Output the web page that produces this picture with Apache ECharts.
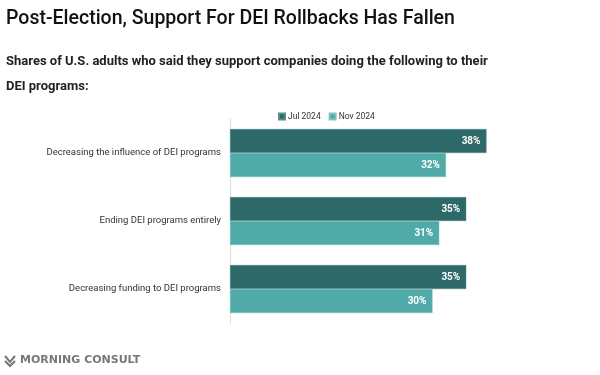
<!DOCTYPE html>
<html>
<head>
<meta charset="utf-8">
<script src="https://cdn.jsdelivr.net/npm/echarts@6/dist/echarts.min.js"></script>
<style>
	html, body { margin: 0; padding: 0; background: #fff; }
	#chart { width: 600px; height: 375px; }
</style>
</head>
<body>
<div id="chart"></div>
<script>
const categories = [
	"Decreasing the influence of DEI programs",
	"Ending DEI programs entirely",
	"Decreasing funding to DEI programs"
];
const seriesNames = ["Jul 2024", "Nov 2024"];
const jul2024 = [38, 35, 35];
const nov2024 = [32, 31, 30];

const myChart = echarts.init(document.getElementById("chart"));
const fontFamily = "Roboto, 'Open Sans', sans-serif";

let barLabel = {
	show: true,
	position: "insideRight",
	distance: 6,
	formatter: "{c}%",
	color: "#fff",
	fontSize: 10,
	fontWeight: "bold",
	fontFamily: fontFamily
};

let option = {
	animation: false,
	textStyle: { fontFamily: fontFamily },
	title: [
		{
			text: "Post-Election, Support For DEI Rollbacks Has Fallen",
			left: 6,
			top: 9,
			padding: 0,
			textStyle: { fontSize: 19.5, fontWeight: 500, color: "#111", fontFamily: fontFamily }
		},
		{
			text: "Shares of U.S. adults who said they support companies doing the following to their\nDEI programs:",
			left: 6,
			top: 49,
			padding: 0,
			textStyle: { fontSize: 13, fontWeight: "bold", color: "#222", lineHeight: 25, fontFamily: fontFamily }
		}
	],
	legend: {
		data: seriesNames,
		top: 112,
		left: 278,
		padding: 0,
		itemWidth: 6,
		itemHeight: 6,
		itemGap: 8,
		icon: "rect",
		textStyle: { fontSize: 8.5, color: "#333", padding: [0, 0, 0, -2] }
	},
	grid: {
		left: 230,
		top: 119,
		width: 337.5,
		height: 204
	},
	xAxis: {
		type: "value",
		min: 0,
		max: 50,
		show: false
	},
	yAxis: {
		type: "category",
		inverse: true,
		data: categories,
		axisTick: { show: false },
		axisLine: { show: true, lineStyle: { color: "#ddd", width: 1 } },
		axisLabel: { fontSize: 9.5, color: "#333", margin: 9 },
		splitLine: { show: false }
	},
	graphic: [
		{
			type: "text",
			left: 20,
			top: 355,
			style: {
				text: "MORNING CONSULT",
				fontSize: 11,
				fontWeight: "bold",
				fill: "#777",
				fontFamily: "'DejaVu Sans', sans-serif"
			}
		},
		{
			type: "polyline",
			shape: { points: [[5, 356], [10, 362], [15, 356]] },
			style: { stroke: "#777", lineWidth: 2, fill: null }
		},
		{
			type: "polyline",
			shape: { points: [[5, 361], [10, 366], [15, 361]] },
			style: { stroke: "#777", lineWidth: 2, fill: null }
		}
	],
	series: [
		{
			name: seriesNames[0],
			type: "bar",
			data: jul2024,
			barWidth: 24,
			barGap: "0%",
			itemStyle: { color: "#2d6968", borderColor: "#5a8c8b", borderWidth: 0.5 },
			label: barLabel
		},
		{
			name: seriesNames[1],
			type: "bar",
			data: nov2024,
			barWidth: 24,
			itemStyle: { color: "#4faaa8", borderColor: "#7cc3c1", borderWidth: 0.5 },
			label: barLabel
		}
	]
};
myChart.setOption(option);
</script>
</body>
</html>
